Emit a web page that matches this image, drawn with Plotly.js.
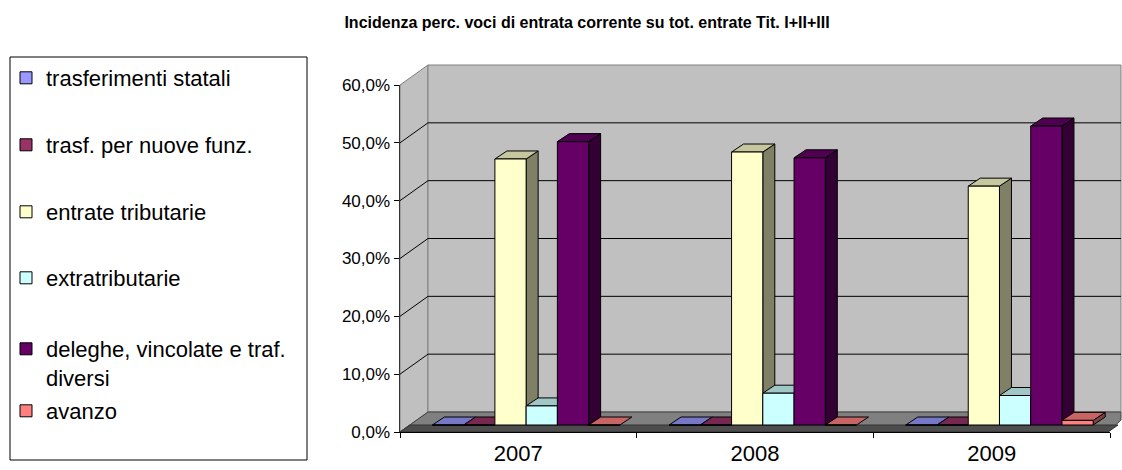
<!DOCTYPE html>
<html><head><meta charset="utf-8">
<script src="https://cdn.plot.ly/plotly-3.0.1.min.js"></script>
<style>html,body{margin:0;padding:0;background:#fff}#chart{width:1122px;height:470px}</style>
</head><body><div id="chart"></div>
<script>
// ---- data ----
const years = ['2007', '2008', '2009'];
const seriesNames = ['trasferimenti statali', 'trasf. per nuove funz.', 'entrate tributarie', 'extratributarie', 'deleghe, vincolate e traf.<br>diversi', 'avanzo'];
const trasferimentiStatali = [0, 0, 0];
const trasfNuoveFunz = [0, 0, 0];
const entrateTributarie = [46.0, 47.2, 41.3];
const extratributarie = [3.3, 5.5, 5.1];
const delegheVincolate = [49.0, 46.2, 51.7];
const avanzo = [0, 0, 0.8];
const yTicks = [0, 10, 20, 30, 40, 50, 60];
const yTickLabels = ['0,0%', '10,0%', '20,0%', '30,0%', '40,0%', '50,0%', '60,0%'];
const seriesColors = ['#9999FF', '#993366', '#FFFFCC', '#CCFFFF', '#660066', '#FF8080'];
const seriesValues = [trasferimentiStatali, trasfNuoveFunz, entrateTributarie, extratributarie, delegheVincolate, avanzo];

// ---- geometry ----
const W = 1122, H = 470, L = 400, R = 1110, T = 85, B = 432;
const pxX = (R - L) / 3, pxY = (B - T) / 60;
const barW = 0.132, off0 = -0.363;
const dxU = 12 / pxX, dyU = 8 / pxY;
const baseShift = 7 / pxY;
const FONT = 'Liberation Sans, Arial, sans-serif';
const px2x = p => (p - L) / (R - L);
const px2y = p => (B - p) / (B - T);

function shade(hex, f) {
  const n = parseInt(hex.slice(1), 16);
  const r = Math.round(((n >> 16) & 255) * f), g = Math.round(((n >> 8) & 255) * f), b = Math.round((n & 255) * f);
  return 'rgb(' + r + ',' + g + ',' + b + ')';
}
function poly(pts) { return 'M' + pts.map(p => p[0] + ',' + p[1]).join('L') + 'Z'; }

const shapes = [];
// legend box
shapes.push({type: 'rect', xref: 'paper', yref: 'paper', x0: px2x(10), x1: px2x(307), y0: px2y(460), y1: px2y(57),
  fillcolor: '#fff', line: {color: '#000', width: 1}, layer: 'below'});
// left wall
shapes.push({type: 'path', xref: 'paper', yref: 'paper', layer: 'below', fillcolor: '#c0c0c0', line: {color: '#808080', width: 1},
  path: poly([[px2x(400), px2y(432)], [px2x(428), px2y(412)], [px2x(428), px2y(65)], [px2x(400), px2y(85)]])});
// back wall
shapes.push({type: 'rect', xref: 'paper', yref: 'paper', layer: 'below', fillcolor: '#c0c0c0', line: {color: '#808080', width: 1},
  x0: px2x(428), x1: px2x(1121), y0: px2y(412), y1: px2y(65)});
// gridlines on walls
const wallLift = 20 / (B - T);
yTicks.filter(t => t > 0 && t < 60).forEach(t => {
  shapes.push({type: 'line', xref: 'paper', yref: 'paper', layer: 'below', line: {color: '#000', width: 1},
    x0: px2x(428), x1: px2x(1121), y0: t / 60 + wallLift, y1: t / 60 + wallLift});
  shapes.push({type: 'line', xref: 'paper', yref: 'paper', layer: 'below', line: {color: '#000', width: 1},
    x0: px2x(400), x1: px2x(428), y0: t / 60, y1: t / 60 + wallLift});
});
// floor
shapes.push({type: 'path', xref: 'paper', yref: 'paper', layer: 'below', fillcolor: '#808080', line: {color: '#404040', width: 1},
  path: poly([[px2x(400), px2y(432)], [px2x(428), px2y(412)], [px2x(1121), px2y(412)], [px2x(1121), px2y(420)], [px2x(1108), px2y(432)]])});
shapes.push({type: 'path', xref: 'paper', yref: 'paper', layer: 'below', fillcolor: '#4d4d4d', line: {color: '#333', width: 1},
  path: poly([[px2x(400), px2y(432)], [px2x(410), px2y(425)], [px2x(1118), px2y(425)], [px2x(1108), px2y(432)]])});

// 3D faces of the bars, from the data
years.forEach((yr, j) => {
  seriesValues.forEach((vals, k) => {
    const v = vals[j];
    const x0 = j + off0 + k * barW, x1 = x0 + barW;
    if (v > 0) {
      shapes.push({type: 'path', xref: 'x', yref: 'y2', layer: 'below', fillcolor: shade(seriesColors[k], 0.5), line: {color: '#000', width: 1},
        path: poly([[x1, 0], [x1 + dxU, dyU], [x1 + dxU, v + dyU], [x1, v]])});
    }
    shapes.push({type: 'path', xref: 'x', yref: 'y2', layer: 'below', fillcolor: shade(seriesColors[k], 0.78), line: {color: '#000', width: 1},
      path: poly([[x0, v], [x1, v], [x1 + dxU, v + dyU], [x0 + dxU, v + dyU]])});
  });
});

const legendY = [78, 145, 212, 278, 328, 411];
const traces = [{type: 'scatter', mode: 'markers', x: [], y: [], showlegend: false, hoverinfo: 'skip'}].concat(
  seriesValues.map((vals, k) => ({
    type: 'bar', name: seriesNames[k], x: years.map((_, i) => i), y: vals, yaxis: 'y2',
    width: barW, offset: off0 + k * barW,
    marker: {color: seriesColors[k], line: {color: '#000', width: 1}},
    legend: k === 0 ? 'legend' : 'legend' + (k + 1), hoverinfo: 'skip'
  })));

const layout = {
  width: W, height: H,
  margin: {l: L, r: W - R, t: T, b: H - B, autoexpand: false},
  paper_bgcolor: '#fff', plot_bgcolor: 'rgba(0,0,0,0)',
  separators: ',.',
  barmode: 'overlay',
  font: {family: FONT, color: '#000'},
  title: {text: '<b>Incidenza perc. voci di entrata corrente su tot. entrate Tit. I+II+III</b>',
    font: {family: FONT, size: 16, color: '#000'}, xref: 'container', yref: 'container',
    x: 587 / W, xanchor: 'center', y: 1 - 22 / H, yanchor: 'middle'},
  xaxis: {range: [-0.5, 2.5], tickmode: 'array', tickvals: years.map((_, i) => i), ticktext: years,
    ticks: '', showline: true, linecolor: '#000', linewidth: 1, showgrid: false, zeroline: false,
    tickfont: {size: 22, color: '#000', family: FONT}, ticklabelstandoff: 2, fixedrange: true,
    minor: {tick0: -0.5, dtick: 1, ticks: 'outside', ticklen: 5, tickcolor: '#000', tickwidth: 1, showgrid: false}},
  yaxis: {range: [0, 60], tickmode: 'array', tickvals: yTicks, ticktext: yTickLabels,
    ticks: 'outside', ticklen: 5, tickcolor: '#000', showline: true, linecolor: '#333', linewidth: 1.5,
    showgrid: false, zeroline: false, tickfont: {size: 17, color: '#000', family: FONT}, fixedrange: true},
  yaxis2: {overlaying: 'y', range: [-baseShift, 60 - baseShift], visible: false, fixedrange: true},
  shapes: shapes,
  showlegend: true
};
legendY.forEach((yc, k) => {
  const key = k === 0 ? 'legend' : 'legend' + (k + 1);
  layout[key] = {xref: 'container', yref: 'container', x: 6 / W, y: 1 - yc / H, xanchor: 'left',
    yanchor: k === 4 ? 'top' : 'middle', valign: 'top',
    font: {size: 22, color: '#000', family: FONT}, bgcolor: 'rgba(0,0,0,0)', borderwidth: 0};
});

Plotly.newPlot('chart', traces, layout, {staticPlot: true, displayModeBar: false});
</script></body></html>
